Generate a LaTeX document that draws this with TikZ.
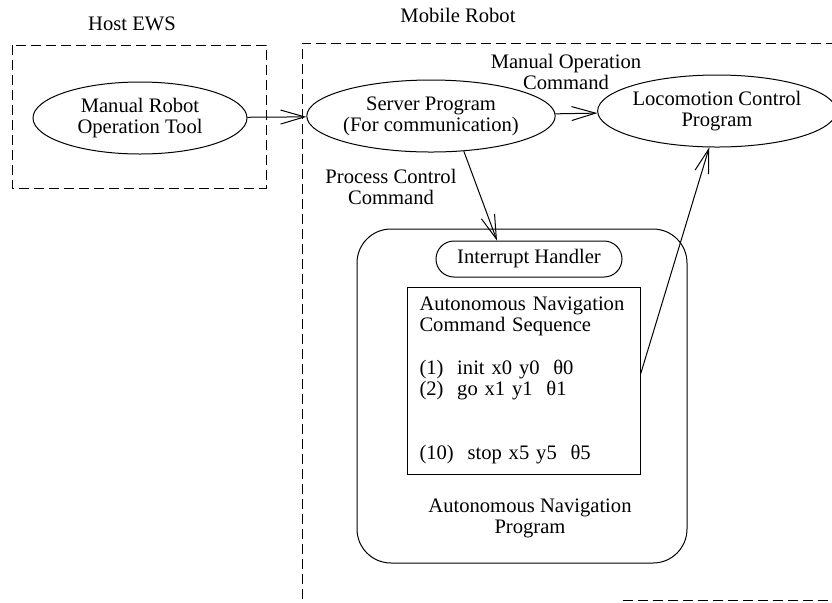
\documentclass[tikz,border=0pt]{standalone}
\usepackage{fontspec}
\setmainfont{Liberation Serif}
\usepackage{tikz}
\usetikzlibrary{shapes.geometric}
\usetikzlibrary{arrows.meta}

\begin{document}
\begin{tikzpicture}[x=0.5pt, y=-0.5pt,
        every node/.style={font=\fontsize{10.3}{10.5}\selectfont, align=center},
        prog/.style={draw, ellipse, line width=0.5pt, inner sep=0pt, minimum height=36pt},
        hostbox/.style={dashed, dash pattern=on 5pt off 2.5pt, line width=0.5pt},
        flow/.style={line width=0.5pt, -{Straight Barb[length=12pt, width=7pt]}}]
        \useasboundingbox (0, 0) rectangle (832, 602);

        \draw[hostbox] (12, 45) rectangle (266, 188);
        \draw[hostbox] (836, 43) -- (302, 43) -- (302, 606);
        \draw[hostbox] (623, 600) -- (836, 600);
        \node (hostlbl) at (132, 24) {Host EWS};
        \node (mobilelbl) at (458, 15) {Mobile Robot};

        \node[prog, minimum width=107pt] (manual) at (140, 118) {Manual Robot\\Operation Tool};
        \node[prog, minimum width=104pt] (server) at (431, 116) {Server Program\\(For communication)};
        \node[prog, minimum width=105pt] (loco) at (717, 111) {Locomotion Control\\Program};

        \node[draw, line width=0.5pt, rounded corners=17pt, minimum width=165pt,
            minimum height=167pt] (anp) at (522, 396) {};
        \node[draw, line width=0.5pt, rounded corners=9pt, minimum width=93pt,
            minimum height=18pt, inner sep=0pt] (handler) at (529, 259) {Interrupt Handler};
        \node[draw, line width=0.5pt, minimum width=116.5pt, minimum height=93.5pt,
            text width=104pt, inner xsep=6pt, align=left] (seqbox) at (523.5, 380.5)
            {Autonomous Navigation\\Command Sequence\\[11pt]
             (1)\ \ init x0 y0\ \ θ0\\(2)\ \ go x1 y1\ \ θ1\\[21.5pt]
             (10)\ \ stop x5 y5\ \ θ5};
        \node (anplbl) at (530, 518) {Autonomous Navigation\\Program};

        \node (manualcmd) at (566, 72) {Manual Operation\\Command};
        \node (processcmd) at (391, 187) {Process Control\\Command};

        \draw[flow] (manual) -- (server);
        \draw[flow] (server) -- (loco);
        \draw[flow] (server.-47) -- (handler.150.6);
        \draw[flow] (seqbox.3.2) -- (loco.-102);
\end{tikzpicture}
\end{document}
